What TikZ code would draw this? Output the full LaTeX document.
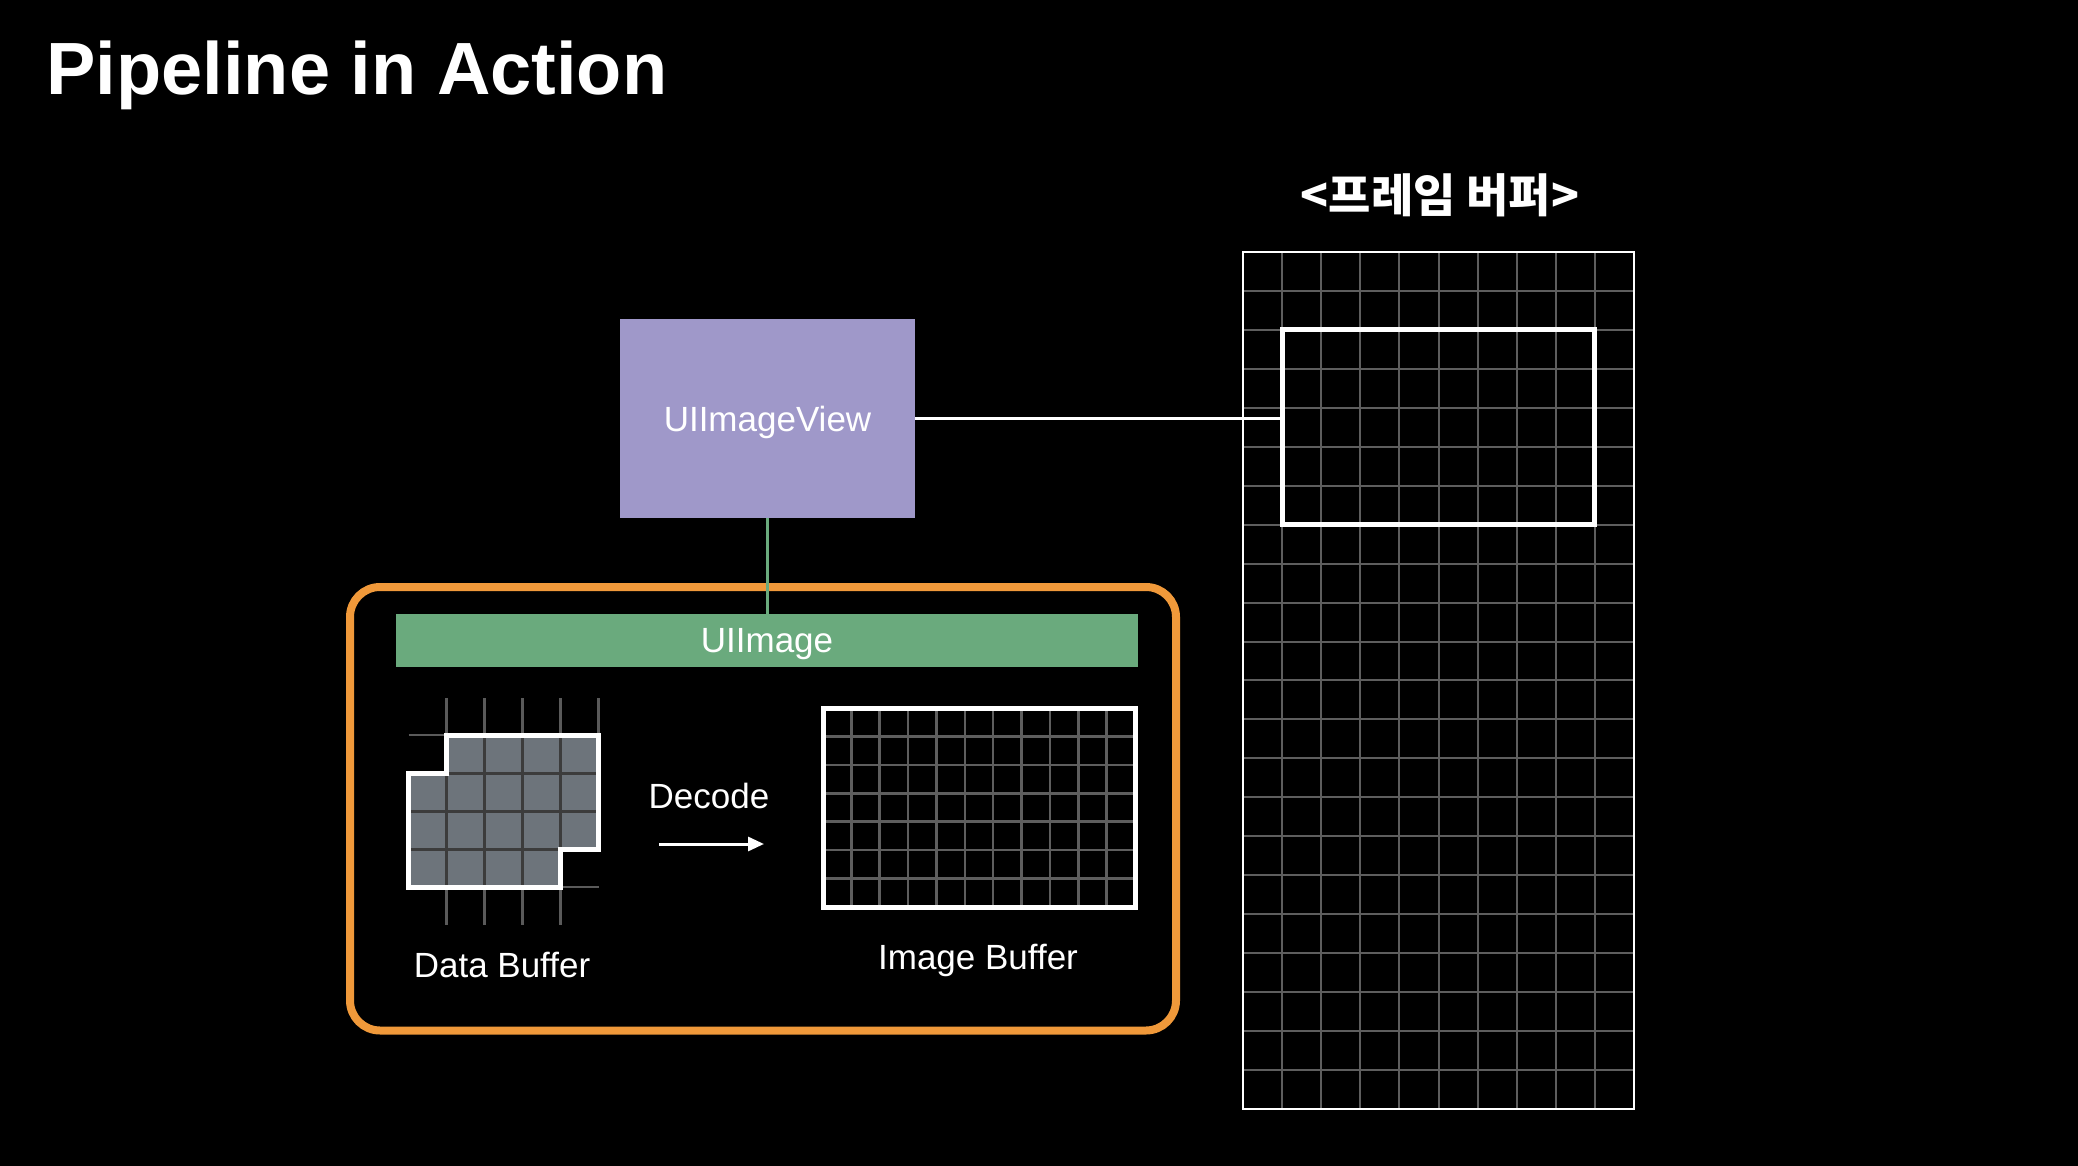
\documentclass[tikz,border=0pt]{standalone}
\usepackage{fontspec}
\setmainfont{Liberation Sans}
\newfontfamily\krfont{Noto Sans CJK KR}
\usetikzlibrary{arrows.meta}
\definecolor{lav}{HTML}{9F98C9}
\definecolor{grn}{HTML}{6AAA7D}
\definecolor{orng}{HTML}{F0993A}
\definecolor{cellgray}{HTML}{6D747B}
\definecolor{cellline}{HTML}{3C3C3C}
\definecolor{stubgray}{HTML}{5A5A5A}
\definecolor{gridgray}{HTML}{5E5E5E}
\begin{document}
\begin{tikzpicture}[x=0.5pt,y=-0.5pt,
  lbl/.style={text=white, font=\fontsize{17.5}{20}\selectfont, inner sep=0pt},
  fbline/.style={draw=gridgray, line width=1pt},
  ibline/.style={draw=gridgray, line width=1.3pt},
  stubline/.style={draw=stubgray, line width=1.4pt},
  cellsep/.style={draw=cellline, line width=1.5pt},
  whitebox/.style={draw=white, line width=2.5pt, inner sep=0pt},
  plainbox/.style={inner sep=0pt, outer sep=0pt}]
\fill[black] (0,0) rectangle (2078,1166);
\useasboundingbox (0,0) rectangle (2078,1166);

% title
\node[anchor=base west, inner sep=0pt, text=white, font=\fontsize{37}{40}\selectfont\bfseries] (title) at (46,95) {Pipeline in Action};

% frame buffer
\foreach \i in {1,...,9} \draw[fbline] ({1243+39.1*\i},252) -- ({1243+39.1*\i},1109);
\foreach \j in {1,...,21} \draw[fbline] (1243,{252+38.95*\j}) -- (1634,{252+38.95*\j});
\node[draw=white, line width=1.4pt, inner sep=0pt, minimum width=195.5pt, minimum height=428.5pt] (fb) at (1438.5,680.5) {};
\node[whitebox, minimum width=156.4pt, minimum height=97.4pt] (hl) at (1438.5,427.3) {};
\node[text=white, inner sep=0pt, font=\krfont\bfseries\fontsize{23}{26}\selectfont] (fbl) at (1440,195) {<프레임 버퍼>};

% UIImageView
\node[fill=lav, plainbox, minimum width=147.5pt, minimum height=99.5pt, lbl, text depth=0pt] (uiv) at (767.5,418.5) {UIImageView};
\draw[white, line width=1.8pt] (uiv.east) -- (uiv.east -| hl.west);

% group
\node[draw=orng, line width=4pt, rounded corners=15pt, inner sep=0pt, minimum width=413pt, minimum height=221.75pt] (grp) at (763,808.75) {};

% UIImage
\node[fill=grn, plainbox, minimum width=371pt, minimum height=26.5pt, lbl, text depth=0pt] (uii) at (767,640.5) {UIImage};
\draw[grn, line width=1.5pt] (uiv.south) -- (uiv.south |- uii.north);

% data buffer
\foreach \x in {446.5,484.5,522.5,560.5,598.5} \draw[stubline] (\x,698) -- (\x,735);
\foreach \x in {446.5,484.5,522.5,560.5} \draw[stubline] (\x,887) -- (\x,925);
\draw[stubline] (408.5,735) -- (446.5,735);
\draw[stubline] (560.5,887) -- (598.5,887);
\begin{scope}
\clip (446.5,735) -- (598.5,735) -- (598.5,849) -- (560.5,849) -- (560.5,887) -- (408.5,887) -- (408.5,773) -- (446.5,773) -- cycle;
\fill[cellgray] (408.5,735) rectangle (598.5,887);
\foreach \x in {446.5,484.5,522.5,560.5} \draw[cellsep] (\x,735) -- (\x,887);
\foreach \y in {773,811,849} \draw[cellsep] (408.5,\y) -- (598.5,\y);
\end{scope}
\draw[white, line width=2.5pt] (446.5,735) -- (598.5,735) -- (598.5,849) -- (560.5,849) -- (560.5,887) -- (408.5,887) -- (408.5,773) -- (446.5,773) -- cycle;
\node[plainbox, minimum width=95pt, minimum height=76pt] (dbuf) at (503.5,811) {};
\node[lbl, anchor=base] (dbl) at (502,977) {Data Buffer};

% decode
\node[lbl, anchor=base] (dec) at (709,808) {Decode};
\coordinate (a1) at (659,844);
\coordinate (a2) at (764,844);
\draw[white, line width=1.5pt, -{Triangle[length=8pt,width=7pt]}] (a1) -- (a2);

% image buffer
\foreach \i in {1,...,10} \draw[ibline] ({823+28.364*\i},708) -- ({823+28.364*\i},907);
\foreach \j in {1,...,6} \draw[ibline] (823,{708+28.43*\j}) -- (1135,{708+28.43*\j});
\node[whitebox, minimum width=156pt, minimum height=99.5pt] (ib) at (979,807.5) {};
\node[lbl, anchor=base] (ibl) at (978,969) {Image Buffer};
\end{tikzpicture}
\end{document}
